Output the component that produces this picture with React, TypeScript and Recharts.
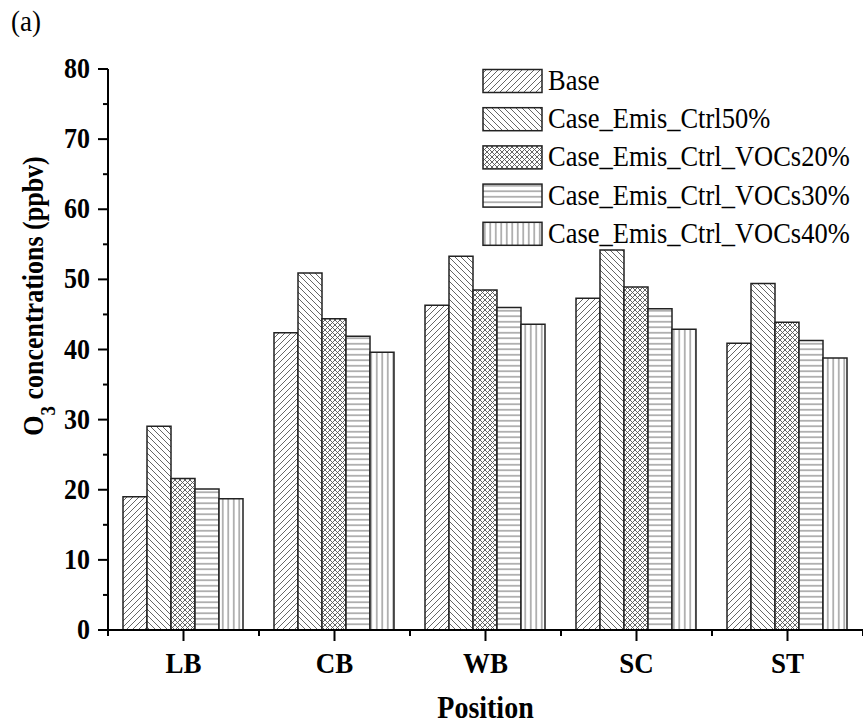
import { Bar, BarChart, Label, Legend, XAxis, YAxis } from "recharts";

const categories = ["LB", "CB", "WB", "SC", "ST"];
const seriesNames = [
  "Base",
  "Case_Emis_Ctrl50%",
  "Case_Emis_Ctrl_VOCs20%",
  "Case_Emis_Ctrl_VOCs30%",
  "Case_Emis_Ctrl_VOCs40%",
];
const base = [19.0, 42.4, 46.3, 47.3, 40.9];
const ctrl50 = [29.05, 50.9, 53.3, 54.2, 49.4];
const vocs20 = [21.6, 44.4, 48.5, 48.9, 43.9];
const vocs30 = [20.1, 41.9, 46.0, 45.8, 41.3];
const vocs40 = [18.7, 39.6, 43.6, 42.9, 38.8];
const yTicks = [0, 5, 10, 15, 20, 25, 30, 35, 40, 45, 50, 55, 60, 65, 70, 75, 80];

const keys = ["base", "ctrl50", "vocs20", "vocs30", "vocs40"];
const patterns = ["pBase", "pCtrl50", "pVocs20", "pVocs30", "pVocs40"];

const data = categories.map((name, i) => ({
  name,
  base: base[i],
  ctrl50: ctrl50[i],
  vocs20: vocs20[i],
  vocs30: vocs30[i],
  vocs40: vocs40[i],
}));

const serif = "'Liberation Serif', 'Times New Roman', serif";
const lineColor = "#555";
const stretch = 1.12; // the reference text is a bit taller than plain Times

function PatternDefs() {
  return (
    <svg width={0} height={0} style={{ position: "absolute" }}>
      <defs>
        <pattern id="pBase" patternUnits="userSpaceOnUse" width={6} height={6}>
          <rect width={6} height={6} fill="#fff" />
          <path d="M-1,1 l2,-2 M0,6 l6,-6 M5,7 l2,-2" stroke={lineColor} strokeWidth={0.9} />
        </pattern>
        <pattern id="pCtrl50" patternUnits="userSpaceOnUse" width={6} height={6}>
          <rect width={6} height={6} fill="#fff" />
          <path d="M-1,5 l2,2 M0,0 l6,6 M5,-1 l2,2" stroke={lineColor} strokeWidth={0.9} />
        </pattern>
        <pattern id="pVocs20" patternUnits="userSpaceOnUse" width={5} height={5}>
          <rect width={5} height={5} fill="#fff" />
          <path d="M-1,1 l2,-2 M0,5 l5,-5 M4,6 l2,-2 M-1,4 l2,2 M0,0 l5,5 M4,-1 l2,2" stroke={lineColor} strokeWidth={0.9} />
        </pattern>
        <pattern id="pVocs30" patternUnits="userSpaceOnUse" width={6} height={5.5}>
          <rect width={6} height={5.5} fill="#fff" />
          <line x1={0} x2={6} y1={2.75} y2={2.75} stroke={lineColor} strokeWidth={0.9} />
        </pattern>
        <pattern id="pVocs40" patternUnits="userSpaceOnUse" width={5.5} height={6}>
          <rect width={5.5} height={6} fill="#fff" />
          <line x1={2.75} x2={2.75} y1={0} y2={6} stroke={lineColor} strokeWidth={0.9} />
        </pattern>
      </defs>
    </svg>
  );
}

function YTick(props: any) {
  const { x, y, payload } = props;
  const major = payload.value % 10 === 0;
  return (
    <g>
      <line x1={x - (major ? 10 : 5)} x2={x} y1={y} y2={y} stroke="#000" strokeWidth={2} />
      {major && (
        <text
          transform={`translate(${x - 18}, ${y + 9}) scale(1, ${stretch})`}
          textAnchor="end"
          fontFamily={serif}
          fontWeight="bold"
          fontSize={26}
          fill="#000"
        >
          {payload.value}
        </text>
      )}
    </g>
  );
}

function XTick(props: any) {
  const { x, y, payload, index } = props;
  const half = 755 / categories.length / 2;
  return (
    <g>
      <line x1={x} x2={x} y1={y} y2={y + 11} stroke="#000" strokeWidth={2} />
      <line x1={x - half} x2={x - half} y1={y} y2={y + 6} stroke="#000" strokeWidth={2} />
      {index === categories.length - 1 && (
        <line x1={x + half} x2={x + half} y1={y} y2={y + 6} stroke="#000" strokeWidth={2} />
      )}
      <text
        transform={`translate(${x}, ${y + 43}) scale(1, ${stretch})`}
        textAnchor="middle"
        fontFamily={serif}
        fontWeight="bold"
        fontSize={27}
        fill="#000"
      >
        {payload.value}
      </text>
    </g>
  );
}

function LegendBox() {
  return (
    <svg width={380} height={200}>
      {seriesNames.map((n, i) => {
        const cy = 19 + i * 38.2;
        return (
          <g key={n}>
            <rect x={1} y={cy - 11.5} width={59} height={23} fill={`url(#${patterns[i]})`} stroke="#222" strokeWidth={1.5} />
            <text transform={`translate(66, ${cy + 9}) scale(1, ${stretch})`} fontFamily={serif} fontSize={26.5} fill="#000">
              {n}
            </text>
          </g>
        );
      })}
    </svg>
  );
}

export default function App() {
  return (
    <div style={{ position: "absolute", left: 0, top: 0, width: 863, height: 727, background: "#fff" }}>
      <PatternDefs />
      <svg width={60} height={45} style={{ position: "absolute", left: 0, top: 0 }}>
        <text transform={`translate(11, 31) scale(1, ${stretch})`} fontFamily={serif} fontSize={27} fill="#000">
          (a)
        </text>
      </svg>
      <BarChart
        width={863}
        height={727}
        data={data}
        margin={{ top: 69, right: 0, bottom: 0, left: 0 }}
        barCategoryGap={15}
        barGap={0}
      >
        <XAxis
          dataKey="name"
          height={97}
          interval={0}
          tickSize={0}
          tickMargin={0}
          tickLine={false}
          axisLine={{ stroke: "#000", strokeWidth: 2 }}
          tick={<XTick />}
        >
          <Label
            content={(p: any) => (
              <text
                transform={`translate(${p.viewBox.x + p.viewBox.width / 2}, 718) scale(1, ${stretch})`}
                textAnchor="middle"
                fontFamily={serif}
                fontWeight="bold"
                fontSize={28}
                fill="#000"
              >
                Position
              </text>
            )}
          />
        </XAxis>
        <YAxis
          width={108}
          domain={[0, 80]}
          ticks={yTicks}
          interval={0}
          tickSize={0}
          tickMargin={0}
          tickLine={false}
          axisLine={{ stroke: "#000", strokeWidth: 2 }}
          tick={<YTick />}
        >
          <Label
            content={() => (
              <text
                transform={`translate(43, 296) rotate(-90) scale(1, ${stretch})`}
                textAnchor="middle"
                fontFamily={serif}
                fontWeight="bold"
                fontSize={26}
                fill="#000"
              >
                O<tspan baselineShift="sub" fontSize={19}>3</tspan>
                <tspan> concentrations (ppbv)</tspan>
              </text>
            )}
          />
        </YAxis>
        <Legend
          layout="vertical"
          align="center"
          verticalAlign="middle"
          wrapperStyle={{ top: 62, left: 482, width: 380, height: 200 }}
          content={() => <LegendBox />}
        />
        {keys.map((k, i) => (
          <Bar
            key={k}
            dataKey={k}
            name={seriesNames[i]}
            fill={`url(#${patterns[i]})`}
            stroke="#222"
            strokeWidth={1.5}
            isAnimationActive={false}
          />
        ))}
      </BarChart>
    </div>
  );
}
